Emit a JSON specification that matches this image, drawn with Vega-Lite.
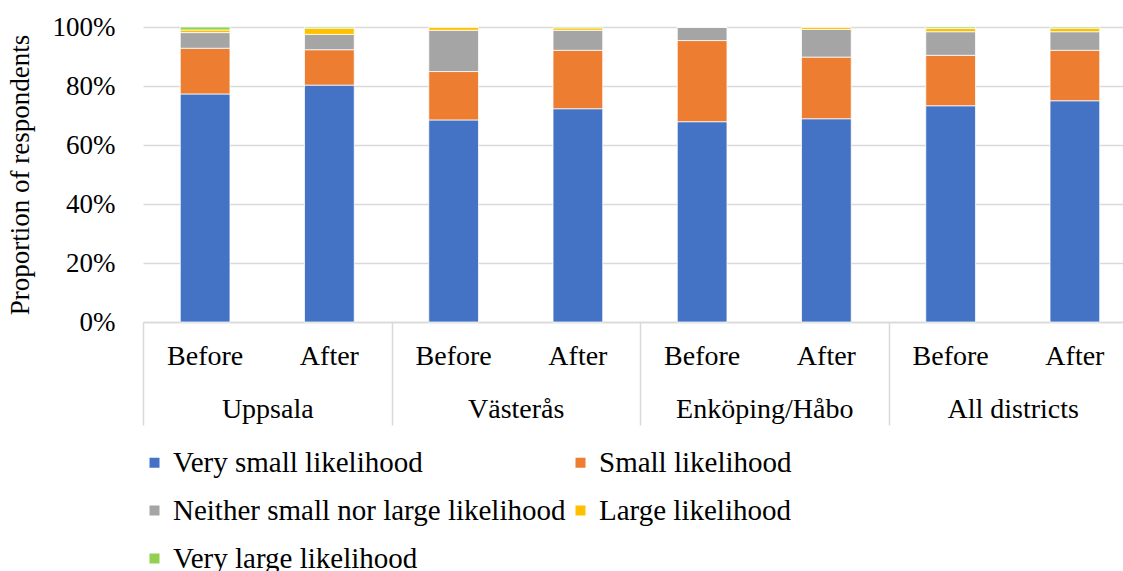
{
  "$schema": "https://vega.github.io/schema/vega-lite/v6.json",
  "width": 994,
  "height": 295,
  "padding": {"left": 6, "top": 13, "right": 0, "bottom": 0},
  "autosize": {"type": "pad"},
  "config": {"font": "Liberation Serif", "view": {"stroke": null}},
  "data": {
    "values": [
      {"district": "Uppsala", "period": "Before", "key": "Uppsala|Before", "response": "Very small likelihood", "rank": 1, "value": 77.3},
      {"district": "Uppsala", "period": "Before", "key": "Uppsala|Before", "response": "Small likelihood", "rank": 2, "value": 15.5},
      {"district": "Uppsala", "period": "Before", "key": "Uppsala|Before", "response": "Neither small nor large likelihood", "rank": 3, "value": 5.3},
      {"district": "Uppsala", "period": "Before", "key": "Uppsala|Before", "response": "Large likelihood", "rank": 4, "value": 0.9},
      {"district": "Uppsala", "period": "Before", "key": "Uppsala|Before", "response": "Very large likelihood", "rank": 5, "value": 1.0},
      {"district": "Uppsala", "period": "After", "key": "Uppsala|After", "response": "Very small likelihood", "rank": 1, "value": 80.3},
      {"district": "Uppsala", "period": "After", "key": "Uppsala|After", "response": "Small likelihood", "rank": 2, "value": 12.0},
      {"district": "Uppsala", "period": "After", "key": "Uppsala|After", "response": "Neither small nor large likelihood", "rank": 3, "value": 5.2},
      {"district": "Uppsala", "period": "After", "key": "Uppsala|After", "response": "Large likelihood", "rank": 4, "value": 2.1},
      {"district": "Uppsala", "period": "After", "key": "Uppsala|After", "response": "Very large likelihood", "rank": 5, "value": 0.4},
      {"district": "Västerås", "period": "Before", "key": "Västerås|Before", "response": "Very small likelihood", "rank": 1, "value": 68.5},
      {"district": "Västerås", "period": "Before", "key": "Västerås|Before", "response": "Small likelihood", "rank": 2, "value": 16.4},
      {"district": "Västerås", "period": "Before", "key": "Västerås|Before", "response": "Neither small nor large likelihood", "rank": 3, "value": 14.0},
      {"district": "Västerås", "period": "Before", "key": "Västerås|Before", "response": "Large likelihood", "rank": 4, "value": 1.1},
      {"district": "Västerås", "period": "Before", "key": "Västerås|Before", "response": "Very large likelihood", "rank": 5, "value": 0},
      {"district": "Västerås", "period": "After", "key": "Västerås|After", "response": "Very small likelihood", "rank": 1, "value": 72.3},
      {"district": "Västerås", "period": "After", "key": "Västerås|After", "response": "Small likelihood", "rank": 2, "value": 19.8},
      {"district": "Västerås", "period": "After", "key": "Västerås|After", "response": "Neither small nor large likelihood", "rank": 3, "value": 6.8},
      {"district": "Västerås", "period": "After", "key": "Västerås|After", "response": "Large likelihood", "rank": 4, "value": 0.8},
      {"district": "Västerås", "period": "After", "key": "Västerås|After", "response": "Very large likelihood", "rank": 5, "value": 0.3},
      {"district": "Enköping/Håbo", "period": "Before", "key": "Enköping/Håbo|Before", "response": "Very small likelihood", "rank": 1, "value": 67.9},
      {"district": "Enköping/Håbo", "period": "Before", "key": "Enköping/Håbo|Before", "response": "Small likelihood", "rank": 2, "value": 27.5},
      {"district": "Enköping/Håbo", "period": "Before", "key": "Enköping/Håbo|Before", "response": "Neither small nor large likelihood", "rank": 3, "value": 4.6},
      {"district": "Enköping/Håbo", "period": "Before", "key": "Enköping/Håbo|Before", "response": "Large likelihood", "rank": 4, "value": 0},
      {"district": "Enköping/Håbo", "period": "Before", "key": "Enköping/Håbo|Before", "response": "Very large likelihood", "rank": 5, "value": 0},
      {"district": "Enköping/Håbo", "period": "After", "key": "Enköping/Håbo|After", "response": "Very small likelihood", "rank": 1, "value": 68.9},
      {"district": "Enköping/Håbo", "period": "After", "key": "Enköping/Håbo|After", "response": "Small likelihood", "rank": 2, "value": 20.9},
      {"district": "Enköping/Håbo", "period": "After", "key": "Enköping/Håbo|After", "response": "Neither small nor large likelihood", "rank": 3, "value": 9.4},
      {"district": "Enköping/Håbo", "period": "After", "key": "Enköping/Håbo|After", "response": "Large likelihood", "rank": 4, "value": 0.8},
      {"district": "Enköping/Håbo", "period": "After", "key": "Enköping/Håbo|After", "response": "Very large likelihood", "rank": 5, "value": 0},
      {"district": "All districts", "period": "Before", "key": "All districts|Before", "response": "Very small likelihood", "rank": 1, "value": 73.3},
      {"district": "All districts", "period": "Before", "key": "All districts|Before", "response": "Small likelihood", "rank": 2, "value": 17.1},
      {"district": "All districts", "period": "Before", "key": "All districts|Before", "response": "Neither small nor large likelihood", "rank": 3, "value": 8.0},
      {"district": "All districts", "period": "Before", "key": "All districts|Before", "response": "Large likelihood", "rank": 4, "value": 1.1},
      {"district": "All districts", "period": "Before", "key": "All districts|Before", "response": "Very large likelihood", "rank": 5, "value": 0.5},
      {"district": "All districts", "period": "After", "key": "All districts|After", "response": "Very small likelihood", "rank": 1, "value": 75.0},
      {"district": "All districts", "period": "After", "key": "All districts|After", "response": "Small likelihood", "rank": 2, "value": 17.1},
      {"district": "All districts", "period": "After", "key": "All districts|After", "response": "Neither small nor large likelihood", "rank": 3, "value": 6.3},
      {"district": "All districts", "period": "After", "key": "All districts|After", "response": "Large likelihood", "rank": 4, "value": 1.2},
      {"district": "All districts", "period": "After", "key": "All districts|After", "response": "Very large likelihood", "rank": 5, "value": 0.4}
    ]
  },
  "layer": [
    {
      "mark": {"type": "bar", "stroke": "#ffffff", "strokeWidth": 0.75},
      "encoding": {
        "x": {
          "field": "key", "type": "nominal",
          "sort": ["Uppsala|Before", "Uppsala|After", "Västerås|Before", "Västerås|After", "Enköping/Håbo|Before", "Enköping/Håbo|After", "All districts|Before", "All districts|After"],
          "scale": {"paddingInner": 0.6, "paddingOuter": 0.3},
          "axis": {
            "orient": "bottom",
            "title": null, "labelExpr": "split(datum.label, '|')[1]", "labelAngle": 0,
            "ticks": false, "domainColor": "#D9D9D9", "domainWidth": 1.5,
            "labelFontSize": 28, "labelColor": "#000000", "labelPadding": 20
          }
        },
        "y": {
          "field": "value", "type": "quantitative", "stack": "normalize",
          "scale": {"domain": [0, 1]},
          "axis": {
            "values": [0, 0.2, 0.4, 0.6, 0.8, 1], "format": ".0%",
            "grid": true, "gridColor": "#D9D9D9", "gridWidth": 1.5,
            "domain": false, "ticks": false,
            "labelFontSize": 27, "labelColor": "#000000", "labelPadding": 28,
            "title": "Proportion of respondents", "titleFontSize": 27, "titleFontWeight": "normal",
            "titleColor": "#000000", "titlePadding": 18
          }
        },
        "color": {
          "field": "response", "type": "nominal",
          "scale": {
            "domain": ["Very small likelihood", "Small likelihood", "Neither small nor large likelihood", "Large likelihood", "Very large likelihood"],
            "range": ["#4472C4", "#ED7D31", "#A5A5A5", "#FFC000", "#92D050"]
          },
          "legend": {
            "title": null, "orient": "none", "legendX": -3, "legendY": 421,
            "direction": "horizontal", "columns": 2, "columnPadding": 0, "rowPadding": 18,
            "symbolType": "square", "symbolSize": 100, "symbolStrokeWidth": 0,
            "labelFontSize": 29, "labelColor": "#000000", "labelLimit": 0, "labelOffset": 4
          }
        },
        "order": {"field": "rank", "type": "quantitative"}
      }
    },
    {
      "mark": {"type": "rule", "opacity": 0},
      "encoding": {
        "x": {
          "field": "district", "type": "nominal",
          "sort": ["Uppsala", "Västerås", "Enköping/Håbo", "All districts"],
          "scale": {"paddingInner": 0, "paddingOuter": 0},
          "axis": {
            "orient": "bottom",
            "title": null, "labelAngle": 0, "domain": false,
            "ticks": true, "tickBand": "extent", "tickSize": 103, "tickColor": "#D9D9D9", "tickWidth": 1.5,
            "labelFontSize": 28, "labelColor": "#000000", "labelPadding": -30
          }
        }
      }
    }
  ],
  "resolve": {"scale": {"x": "independent"}}
}
